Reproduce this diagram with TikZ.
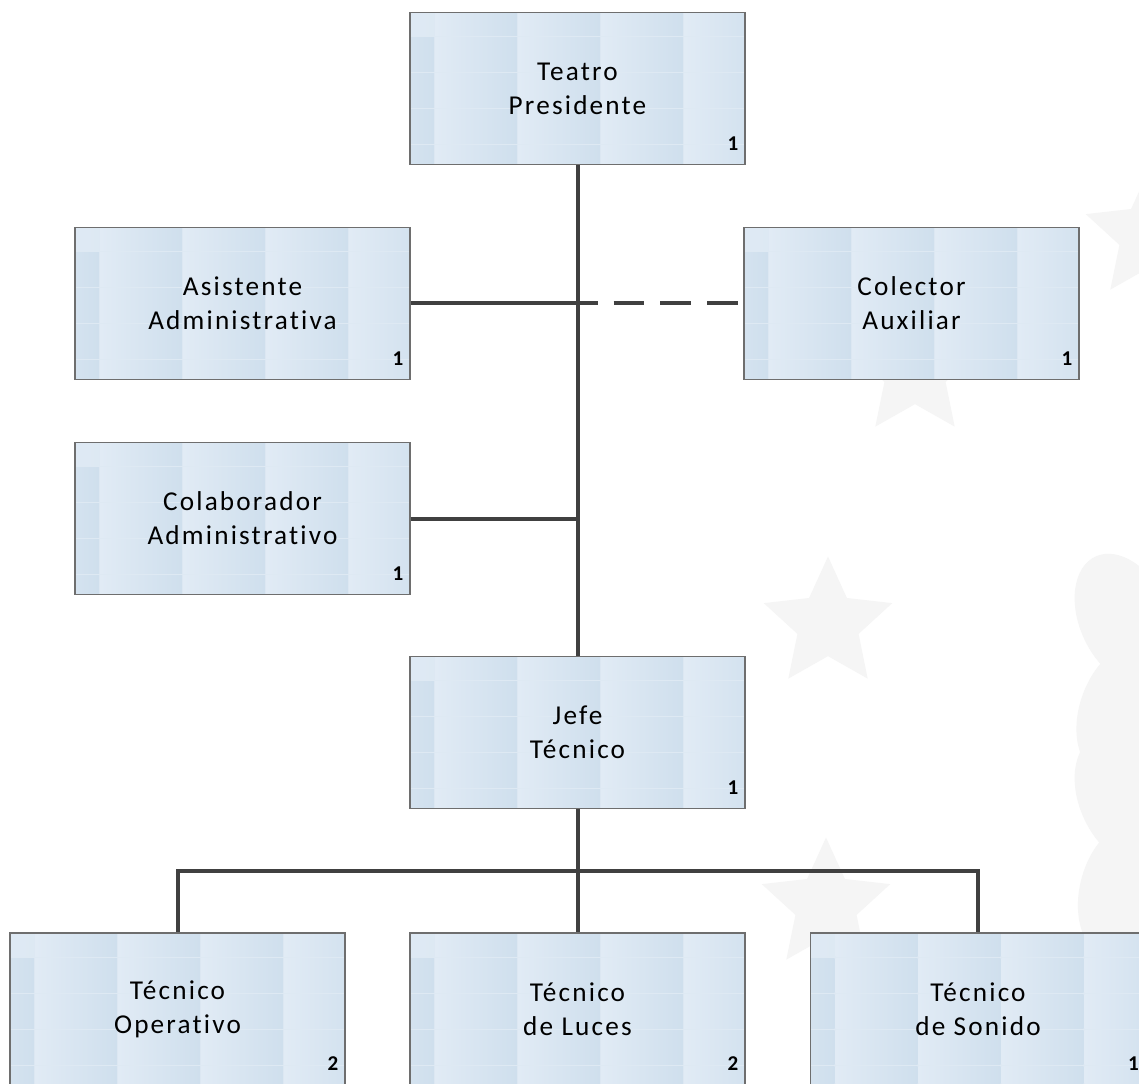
\documentclass[tikz,border=0pt]{standalone}
\usepackage{fontspec}
\setmainfont{Carlito}
\newfontfamily\boxfont{Carlito}[LetterSpace=8, Ligatures={NoCommon}]
\usetikzlibrary{shapes.geometric,calc}
\definecolor{orgline}{RGB}{64,64,64}
\definecolor{orgborder}{RGB}{110,110,110}
\definecolor{tilebase}{RGB}{222,233,243}
\definecolor{tilelight}{RGB}{225,235,245}
\definecolor{tiledark}{RGB}{207,223,237}
\definecolor{markgray}{RGB}{245,245,245}

\begin{document}
\begin{tikzpicture}[x=0.02cm, y=-0.02cm]
    \tikzstyle{post} = [rectangle, draw=orgborder, line width=0.8pt, fill=tilebase,
                        minimum width=6.7cm, minimum height=3.04cm, align=center, inner sep=0pt,
                        font=\boxfont\fontsize{15.5}{19.5}\selectfont,
                        path picture={
                          \foreach \cx in {-58,25,108,191,274}
                            \foreach \ry in {-11,25,61,97,133}
                              \shade[left color=tilelight, right color=tiledark]
                                ($(path picture bounding box.north west)+(\cx,\ry)$) rectangle +(82,34);}]
    \tikzstyle{count} = [font=\bfseries\fontsize{12}{14}\selectfont, inner sep=0pt, anchor=base east]
    \tikzstyle{link} = [draw=orgline, line width=0.08cm]
    \tikzstyle{wmstar} = [star, star points=5, star point ratio=2.1, fill=markgray, inner sep=0pt, minimum size=2.7cm]

    \fill[white] (0,0) rectangle (1139,1084);
    \useasboundingbox (0,0) rectangle (1139,1084);

    % Watermark
    \node[wmstar] (w1) at (828,624) {};
    \node[wmstar] (w2) at (826,905) {};
    \node[wmstar] (w3) at (915,372) {};
    \node[wmstar] (w4) at (1150,235) {};
    \foreach \ly/\lr in {620/25, 710/-20, 800/25, 890/-15}
      \fill[markgray, rotate around={\lr:(1125,\ly)}] (1125,\ly) ellipse (0.9cm and 1.4cm);

    % Top
    \node[post] (pres) at (577.5,88.5) {Teatro\\Presidente};

    % Staff
    \node[post] (asis) at (242.5,303.5) {Asistente\\Administrativa};
    \node[post] (cole) at (911.5,303.5) {Colector\\Auxiliar};
    \node[post] (cola) at (242.5,518.5) {Colaborador\\Administrativo};

    % Technical
    \node[post] (jefe) at (577.5,732.5) {Jefe\\Técnico};
    \node[post] (oper) at (177.5,1009) {Técnico\\Operativo};
    \node[post] (luce) at (577.5,1009) {Técnico\\de Luces};
    \node[post] (soni) at (978,1009) {Técnico\\de Sonido};

    % Counts
    \node[count] (n1) at ($(pres.south east)+(-7,-15)$) {1};
    \node[count] (n2) at ($(asis.south east)+(-7,-15)$) {1};
    \node[count] (n3) at ($(cole.south east)+(-7,-15)$) {1};
    \node[count] (n4) at ($(cola.south east)+(-7,-15)$) {1};
    \node[count] (n5) at ($(jefe.south east)+(-7,-15)$) {1};
    \node[count] (n6) at ($(oper.south east)+(-7,-15)$) {2};
    \node[count] (n7) at ($(luce.south east)+(-7,-15)$) {2};
    \node[count] (n8) at ($(soni.south east)+(-7,-15)$) {1};

    % Lines
    \coordinate (j1) at (pres.south |- asis.east);
    \coordinate (j2) at (pres.south |- cola.east);
    \coordinate (bus) at ($(jefe.south)+(0,62)$);
    \draw[link] (pres.south) -- (jefe.north);
    \draw[link] (asis.east) -- (j1);
    \draw[link, dash pattern=on 0.62cm off 0.32cm, dash phase=0.22cm] (j1) -- (cole.west);
    \draw[link] (cola.east) -- (j2);
    \draw[link] (jefe.south) -- (bus);
    \draw[link] (oper.north) |- (bus) -| (soni.north);
    \draw[link] (bus) -- (luce.north);
\end{tikzpicture}
\end{document}
